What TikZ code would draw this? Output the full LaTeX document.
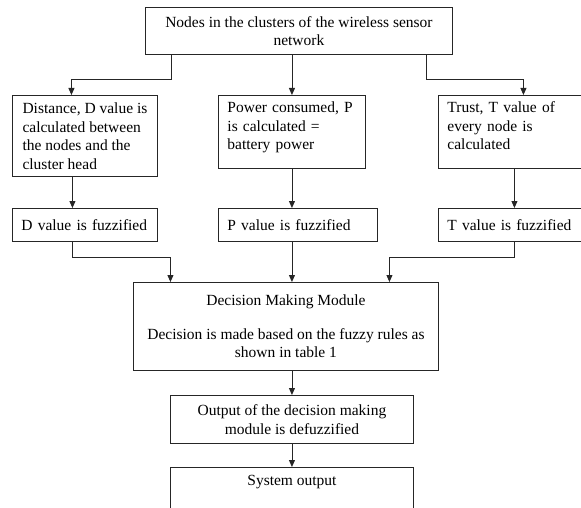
\documentclass[tikz,border=0pt]{standalone}
\usepackage{fontspec}
\setmainfont{Liberation Serif}
\usetikzlibrary{arrows.meta}

\tikzset{
  box/.style={draw=black!85, line width=0.9pt, anchor=north west, inner xsep=9pt, inner ysep=3pt},
  arr/.style={draw=black!85, line width=0.9pt, -{Triangle[length=7pt,width=6pt]}},
}

\begin{document}
\begin{tikzpicture}[x=1pt, y=-1pt, font=\fontsize{15.5}{18.5}\selectfont]
				\useasboundingbox (0,0) rectangle (581,508);
				
				% source
				\node[box, align=center, minimum width=307pt, minimum height=47pt] (nodes) at (145,7) {Nodes in the clusters of the wireless sensor\\network};
				
				% the three values
				\node[box, align=left, inner xsep=0pt, minimum width=145pt, minimum height=81pt] (dist) at (12,95) {Distance, D value is\\calculated between\\the nodes and the\\cluster head};
				\node[box, align=left, text width=129pt, minimum height=73pt] (power) at (218,95) {Power consumed, P\\is calculated =\\battery power\\[-6pt]\mbox{}};
				\node[box, align=left, text width=134pt, minimum height=73pt] (trust) at (438,95) {Trust, T value of\\every node is\\calculated\\[-6pt]\mbox{}};
				
				% fuzzification
				\node[box, align=left, text width=127pt, minimum height=33pt] (dfuzz) at (12,208) {D value is fuzzified};
				\node[box, align=left, text width=141pt, minimum height=33pt] (pfuzz) at (218,208) {P value is fuzzified};
				\node[box, align=left, text width=134pt, minimum height=33pt] (tfuzz) at (438,208) {T value is fuzzified};
				
				% decision and output
				\node[box, align=center, minimum width=305pt, minimum height=88pt] (decide) at (133,282) {Decision Making Module\\[15pt]Decision is made based on the fuzzy rules as\\shown in table 1};
				\node[box, align=center, minimum width=243pt, minimum height=48pt] (defuzz) at (170,395) {Output of the decision making\\module is defuzzified};
				\node[box, align=center, minimum width=243pt, text height=15pt, text depth=32pt] (sysout) at (170,467) {System output};
				
				\draw[arr] ([xshift=26pt]nodes.south west) -- ++(0,25) -| ([xshift=-13.5pt]dist.north);
				\draw[arr] (power.north |- nodes.south) -- (power.north);
				\draw[arr] ([xshift=-26pt]nodes.south east) -- ++(0,25) -| ([xshift=9pt]trust.north);
				
				\draw[arr] ([xshift=-12.5pt]dist.south) -- ([xshift=-12.5pt]dfuzz.north);
				\draw[arr] (power.south) -- (power.south |- pfuzz.north);
				\draw[arr] (trust.south) -- (tfuzz.north);
				
				\draw[arr] ([xshift=-12.5pt]dfuzz.south) -- ++(0,16) -| ([xshift=-115.5pt]decide.north);
				\draw[arr] (defuzz.north |- pfuzz.south) -- (defuzz.north |- decide.north);
				\draw[arr] (tfuzz.south) -- ++(0,16) -| ([xshift=103.5pt]decide.north);
				
				\draw[arr] (defuzz.north |- decide.south) -- (defuzz.north);
				\draw[arr] (defuzz.south) -- (sysout.north);
			\end{tikzpicture}
\end{document}
